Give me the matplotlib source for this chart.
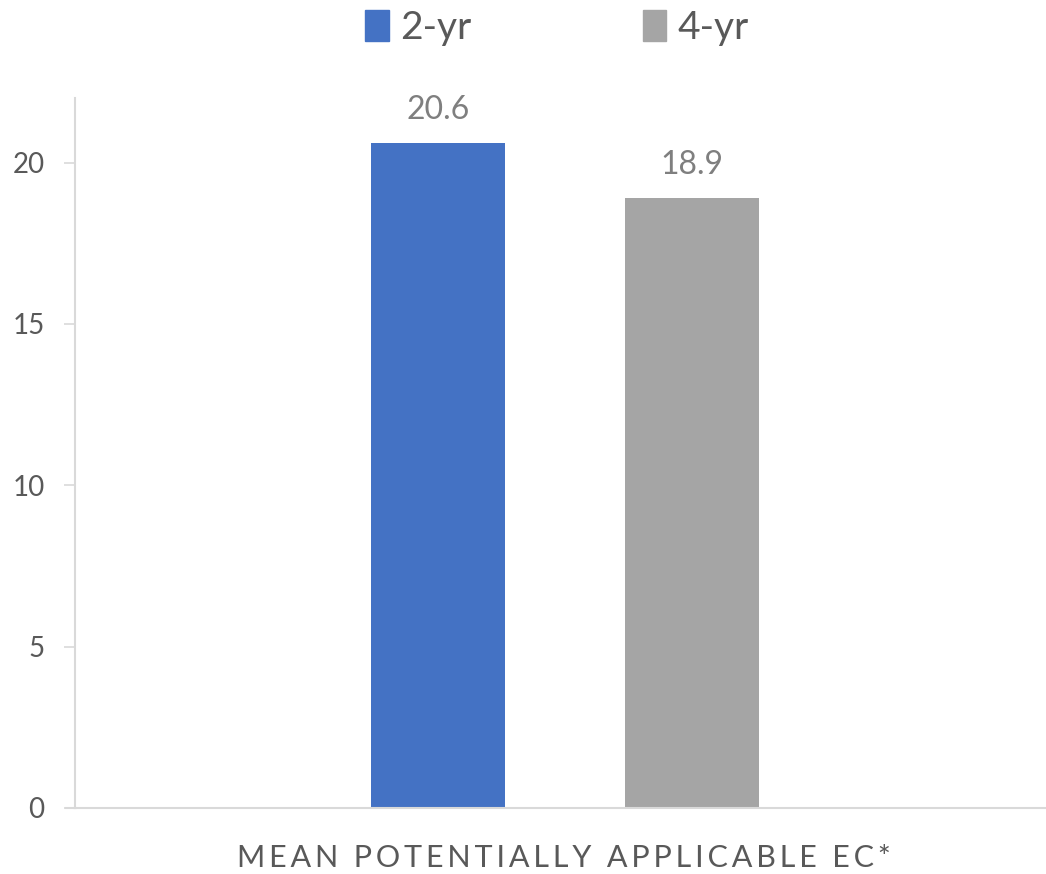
import matplotlib
matplotlib.use("Agg")
import matplotlib.pyplot as plt
from matplotlib.patches import Patch

# data
category = "MEAN POTENTIALLY APPLICABLE EC*"
series = ["2-yr", "4-yr"]
values = [20.6, 18.9]
colors = ["#4472C4", "#A5A5A5"]
yticks = [0, 5, 10, 15, 20]

plt.rcParams['font.family'] = ['Lato', 'DejaVu Sans']
txt = "#595959"

fig = plt.figure(figsize=(10.46, 8.74), dpi=100)
ax = fig.add_axes([75 / 1046, 1 - 808 / 874, 971 / 1046, 710 / 874])

offsets = [-0.131, 0.131]
width = 0.138
for off, v, c in zip(offsets, values, colors):
    ax.bar(off, v, width=width, color=c)
    ax.text(off, v + 0.55, f"{v:.1f}", ha="center", va="bottom",
            fontsize=23, color="#7F7F7F")

ax.set_xlim(-0.5046, 0.4954)
ax.set_ylim(0, 22)
ax.set_yticks(yticks)
ax.set_xticks([])
ax.tick_params(axis="y", length=8, width=1.2, color="#D9D9D9",
               labelsize=20, labelcolor=txt, pad=14)
for s in ["top", "right"]:
    ax.spines[s].set_visible(False)
ax.spines["left"].set_color("#D9D9D9")
ax.spines["left"].set_linewidth(1.5)
ax.spines["bottom"].set_color("#D9D9D9")
ax.spines["bottom"].set_linewidth(1.5)
# short extension of the x axis to the left, like the tick stub
ax.plot([-0.5046 - 9 / 971, -0.5046], [0, 0], color="#D9D9D9", lw=1.5,
        clip_on=False)

# spaced-out capitals for the category label
spaced = "\u2009".join(category).replace("\u2009 \u2009", "  ")
fig.text(564 / 1046, 1 - 858 / 874, spaced,
         ha="center", va="center", fontsize=22, color=txt,
         family=['Lato', 'DejaVu Sans'])

handles = [Patch(color=c, label=s) for c, s in zip(colors, series)]
fig.legend(handles=handles, loc="center", bbox_to_anchor=(557 / 1046, 1 - 28 / 874),
           ncol=2, frameon=False, fontsize=28, labelcolor=txt,
           handlelength=0.6, handleheight=0.85, handletextpad=0.3,
           columnspacing=4.4)

plt.savefig("out.png", dpi=100)
